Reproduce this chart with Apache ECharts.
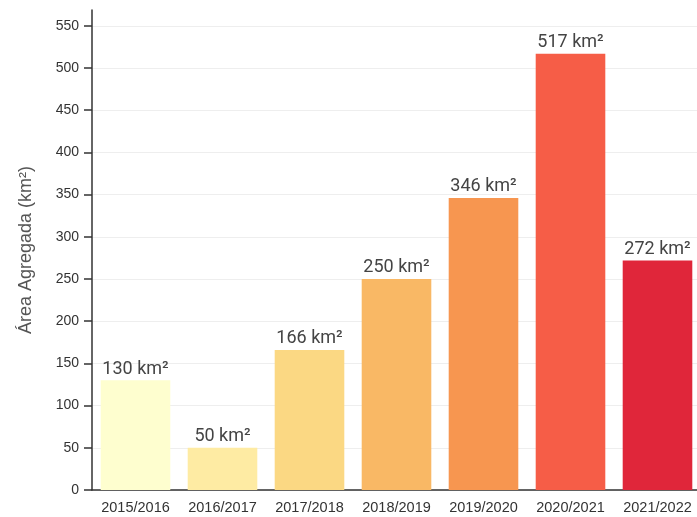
<!DOCTYPE html>
<html>
<head>
<meta charset="utf-8">
<script src="https://cdn.jsdelivr.net/npm/echarts@6/dist/echarts.min.js"></script>
<style>
  html, body { margin: 0; padding: 0; background: #fff; }
  #chart { width: 697px; height: 517px; }
</style>
</head>
<body>
<div id="chart"></div>
<script>
// Seasons and aggregated burned area (km²)
const seasons = ['2015/2016', '2016/2017', '2017/2018', '2018/2019', '2019/2020', '2020/2021', '2021/2022'];
const areas = [130, 50, 166, 250, 346, 517, 272];
const barColors = ['#fefecf', '#feeba3', '#fbd883', '#f9b865', '#f79650', '#f65d47', '#e0263a'];
const yTicks = [0, 50, 100, 150, 200, 250, 300, 350, 400, 450, 500, 550];

const yMax = Math.max(...areas) * 1.1;

const chart = echarts.init(document.getElementById('chart'), null, { renderer: 'canvas' });

chart.setOption({
  animation: false,
  grid: {
    left: 92, top: 10, width: 609, bottom: 27,
    containLabel: false,
    outerBoundsMode: 'none'
  },
  xAxis: {
    type: 'category',
    data: seasons,
    axisLine: { lineStyle: { color: '#333', width: 1.5 } },
    axisTick: { alignWithLabel: true, length: 7, lineStyle: { color: '#333', width: 1.5 } },
    axisLabel: {
      interval: 0, hideOverlap: false,
      color: '#333', fontSize: 14.5, fontFamily: 'Liberation Sans, Arial, sans-serif', margin: 10
    }
  },
  yAxis: {
    type: 'value',
    min: 0,
    max: yMax,
    interval: 50,
    name: 'Área Agregada (km²)',
    nameLocation: 'middle',
    nameGap: 57,
    nameTextStyle: { color: '#555', fontSize: 18, fontFamily: 'Liberation Sans, Arial, sans-serif' },
    axisLine: { show: true, lineStyle: { color: '#333', width: 1.5 } },
    axisTick: { show: true, length: 8, lineStyle: { color: '#333', width: 1.5 } },
    axisLabel: {
      color: '#333', fontSize: 14, fontFamily: 'Liberation Sans, Arial, sans-serif', margin: 13,
      showMaxLabel: false,
      formatter: v => (yTicks.includes(v) ? String(v) : '')
    },
    splitLine: { showMaxLine: false, lineStyle: { color: '#eeeeee', width: 1 } }
  },
  series: [{
    type: 'bar',
    data: areas.map((v, i) => ({ value: v, itemStyle: { color: barColors[i] } })),
    barCategoryGap: '20%',
    label: {
      show: true,
      position: 'top',
      distance: 2,
      color: '#444',
      fontSize: 18,
      fontFamily: 'Roboto, sans-serif',
      formatter: p => p.value + ' km²'
    }
  }]
});
</script>
</body>
</html>
